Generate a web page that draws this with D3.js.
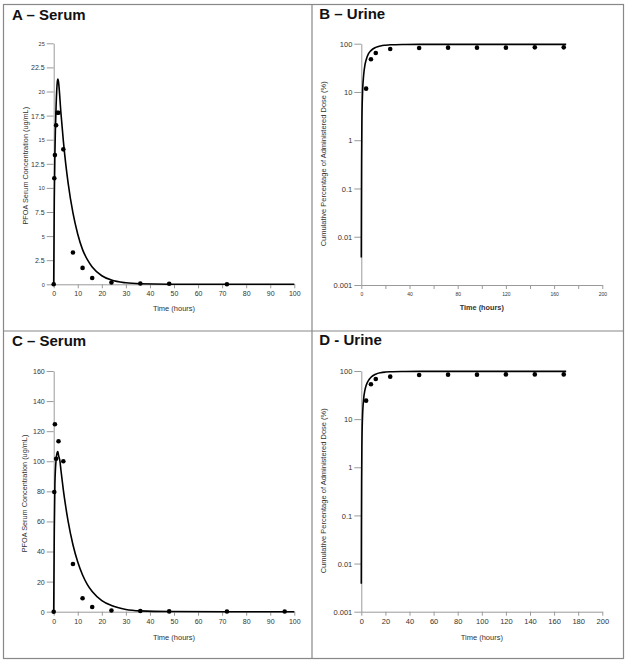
<!DOCTYPE html>
<html><head><meta charset="utf-8">
<script src="https://cdn.jsdelivr.net/npm/d3@7"></script>
<style>body{margin:0;background:#fff}svg{display:block;font-family:Arial,"Liberation Sans",sans-serif}</style>
</head><body><svg id="c" width="629" height="663"></svg>
<script>
// ---- Data ----
const panelTitles = ["A – Serum", "B – Urine", "C – Serum", "D - Urine"];
const serumYLabel = "PFOA Serum Concentration (ug/mL)";
const urineYLabel = "Cumulative Percentage of Administered Dose (%)";
const xLabel = "Time (hours)";

// Panel A – serum observed
const aObsT = [0, 0.25, 0.5, 1, 1.5, 2, 4, 8, 12, 16, 24, 36, 48, 72];
const aObsV = [0, 11, 13.4, 16.5, 17.8, 17.8, 14.0, 3.3, 1.7, 0.65, 0.18, 0.08, 0.06, 0];
// Panel A – model curve
const aFitT = [0, 0.25, 0.5, 1, 1.5, 1.75, 2, 3, 4, 5, 6, 8, 10, 12, 14, 16, 20, 24, 30, 36, 48, 72, 100];
const aFitV = [0, 9, 13.5, 18.5, 21, 21.3, 21, 17.8, 14.9, 12.5, 10.5, 7.4, 5.2, 3.6, 2.55, 1.8, 0.89, 0.44, 0.155, 0.054, 0.007, 0, 0];
const aYTicks = [0, 2.5, 5, 7.5, 10, 12.5, 15, 17.5, 20, 22.5, 25];
const serumXTicks = [0, 10, 20, 30, 40, 50, 60, 70, 80, 90, 100];

// Panel B – urine observed
const bObsT = [4, 8, 12, 24, 48, 72, 96, 120, 144, 168];
const bObsV = [11.7, 47.5, 64, 77.7, 81.5, 82.8, 82.8, 82.8, 84, 84];
const bFitT = [0, 0.1, 0.25, 0.5, 1, 2, 3, 4, 6, 8, 12, 16, 20, 24, 36, 48, 72, 120, 170];
const bFitV = [0.0037, 0.04, 0.4, 2.5, 9, 23, 36, 46, 62, 72, 84, 90, 93, 95, 96.5, 97, 97, 97, 97];
const urineYTicks = [0.001, 0.01, 0.1, 1, 10, 100];
const urineYTickLabels = ["0.001", "0.01", "0.1", "1", "10", "100"];
const urineXTicks = [0, 20, 40, 60, 80, 100, 120, 140, 160, 180, 200];
const bXLabelled = [0, 40, 80, 120, 160, 200];

// Panel C – serum observed
const cObsT = [0, 0.25, 0.5, 1, 2, 4, 8, 12, 16, 24, 36, 48, 72, 96];
const cObsV = [0, 79.6, 124.6, 101.7, 113.3, 100, 31.7, 8.9, 3.1, 0.8, 0.5, 0.2, 0.1, 0.1];
const cFitT = [0, 0.25, 0.5, 1, 1.5, 1.75, 2, 2.6, 3, 4, 5, 6, 8, 10, 12, 14, 16, 20, 24, 30, 36, 48, 72, 100];
const cFitV = [0, 55, 85, 101, 106, 106.5, 104, 100, 94.2, 81, 69.8, 60, 44.5, 33, 24.4, 18, 13.4, 7.4, 4.1, 1.5, 0.56, 0.1, 0, 0];
const cYTicks = [0, 20, 40, 60, 80, 100, 120, 140, 160];

// Panel D – urine observed
const dObsT = [4, 8, 12, 24, 48, 72, 96, 120, 144, 168];
const dObsV = [24.2, 53, 68.4, 76.3, 82.8, 84, 84, 85, 85, 85];
const dFitT = [0, 0.1, 0.25, 0.5, 1, 2, 3, 4, 6, 8, 12, 16, 20, 24, 36, 48, 72, 120, 170];
const dFitV = [0.0038, 0.05, 0.5, 3, 11, 27, 40, 50, 64, 74, 86, 92, 95, 96.5, 97.5, 98, 98, 98, 98];

// ---- Drawing ----
const svg = d3.select("#c");
svg.append("rect").attr("width", 629).attr("height", 663).attr("fill", "#fff");

const AX = "#9a9a9a", TX = "#333";
const zip = (t, v) => t.map((d, i) => ({t: d, v: v[i]}));

function panel(o) {
  const g = svg.append("g");
  g.append("text").attr("x", o.tx).attr("y", o.ty).attr("font-size", 15).attr("font-weight", "bold")
    .attr("fill", "#111").text(o.title);
  const x = d3.scaleLinear().domain(o.xDom).range([o.x0, o.x1]);
  const y = (o.log ? d3.scaleLog() : d3.scaleLinear()).domain(o.yDom).range([o.y0, o.y1]);

  const xa = g.append("g").attr("transform", `translate(0,${o.y0})`)
    .call(d3.axisBottom(x).tickValues(o.xTicks).tickSize(4).tickSizeOuter(0).tickPadding(3)
      .tickFormat(o.xFmt || (d => d)));
  const ya = g.append("g").attr("transform", `translate(${o.x0},0)`)
    .call(d3.axisLeft(y).tickValues(o.yTicks).tickSize(7).tickSizeOuter(0).tickPadding(2)
      .tickFormat(o.yFmt || (d => d)));
  [xa, ya].forEach(a => {
    a.select(".domain").attr("stroke", AX).attr("stroke-width", 1);
    a.selectAll(".tick line").attr("stroke", AX);
    a.selectAll(".tick text").attr("fill", TX).attr("font-family", "Arial, 'Liberation Sans', sans-serif");
  });
  xa.selectAll(".tick text").attr("font-size", o.xFs);
  ya.selectAll(".tick text").attr("font-size", o.yFsFn || o.yFs).attr("dy", "0.35em");

  g.append("text").attr("x", (o.x0 + o.x1) / 2).attr("y", o.xlY).attr("text-anchor", "middle")
    .attr("font-size", o.xlFs || 7.5).attr("font-weight", o.xlBold ? "bold" : "normal").attr("fill", TX).text(xLabel);
  g.append("text").attr("transform", `translate(${o.ylX},${o.ylY}) rotate(-90)`).attr("text-anchor", "middle")
    .attr("font-size", o.ylFs).attr("fill", TX).text(o.yLabel);

  const line = d3.line().x(d => x(d.t)).y(d => y(d.v)).curve(d3.curveMonotoneX);
  g.append("path").datum(zip(o.fitT, o.fitV)).attr("d", line).attr("fill", "none")
    .attr("stroke", "#000").attr("stroke-width", 1.6);
  g.selectAll("circle.o").data(zip(o.obsT, o.obsV)).join("circle")
    .attr("cx", d => x(d.t)).attr("cy", d => y(d.v)).attr("r", 2.3).attr("fill", "#000");
}

panel({title: panelTitles[0], tx: 12, ty: 19.5, xDom: [0, 100], x0: 53.7, x1: 294.3, yDom: [0, 25], y0: 284.3, y1: 43.3,
  xTicks: serumXTicks, yTicks: aYTicks, xFs: 7, yFsFn: d => (d % 5 === 0 ? 5.5 : 7),
  xlY: 311, ylX: 27.5, ylY: 165.7, ylFs: 7.3, yLabel: serumYLabel,
  obsT: aObsT, obsV: aObsV, fitT: aFitT, fitV: aFitV});

panel({title: panelTitles[1], tx: 319.3, ty: 18.8, xDom: [0, 200], x0: 361.3, x1: 602.3, yDom: [0.001, 100], y0: 285, y1: 43.7, log: true,
  xTicks: urineXTicks, yTicks: urineYTicks, xFs: 5, yFs: 7.5, xFmt: d => (bXLabelled.includes(d) ? d : ""),
  yFmt: d => urineYTickLabels[urineYTicks.indexOf(d)],
  xlY: 310, xlBold: true, xlFs: 7.3, ylX: 326.2, ylY: 163.8, ylFs: 7.5, yLabel: urineYLabel,
  obsT: bObsT, obsV: bObsV, fitT: bFitT, fitV: bFitV});

panel({title: panelTitles[2], tx: 12, ty: 346.3, xDom: [0, 100], x0: 53.7, x1: 294.3, yDom: [0, 160], y0: 611.7, y1: 371,
  xTicks: serumXTicks, yTicks: cYTicks, xFs: 7, yFs: 7,
  xlY: 640, ylX: 26.5, ylY: 493.5, ylFs: 7.3, yLabel: serumYLabel,
  obsT: cObsT, obsV: cObsV, fitT: cFitT, fitV: cFitV});

panel({title: panelTitles[3], tx: 319.3, ty: 345.3, xDom: [0, 200], x0: 361.3, x1: 602.3, yDom: [0.001, 100], y0: 611.7, y1: 371, log: true,
  xTicks: urineXTicks, yTicks: urineYTicks, xFs: 7.5, yFs: 7.5,
  yFmt: d => urineYTickLabels[urineYTicks.indexOf(d)],
  xlY: 640, ylX: 326.2, ylY: 490.8, ylFs: 7.5, yLabel: urineYLabel,
  obsT: dObsT, obsV: dObsV, fitT: dFitT, fitV: dFitV});

// frame and separators
const BC = "#888";
svg.append("rect").attr("x", 3.5).attr("y", 4.5).attr("width", 620).attr("height", 654)
  .attr("fill", "none").attr("stroke", BC).attr("stroke-width", 1.2);
svg.append("line").attr("x1", 312).attr("x2", 312).attr("y1", 4.5).attr("y2", 658.5).attr("stroke", BC).attr("stroke-width", 1.2);
svg.append("line").attr("x1", 3.5).attr("x2", 623.5).attr("y1", 331).attr("y2", 331).attr("stroke", BC).attr("stroke-width", 1.2);
</script></body></html>
